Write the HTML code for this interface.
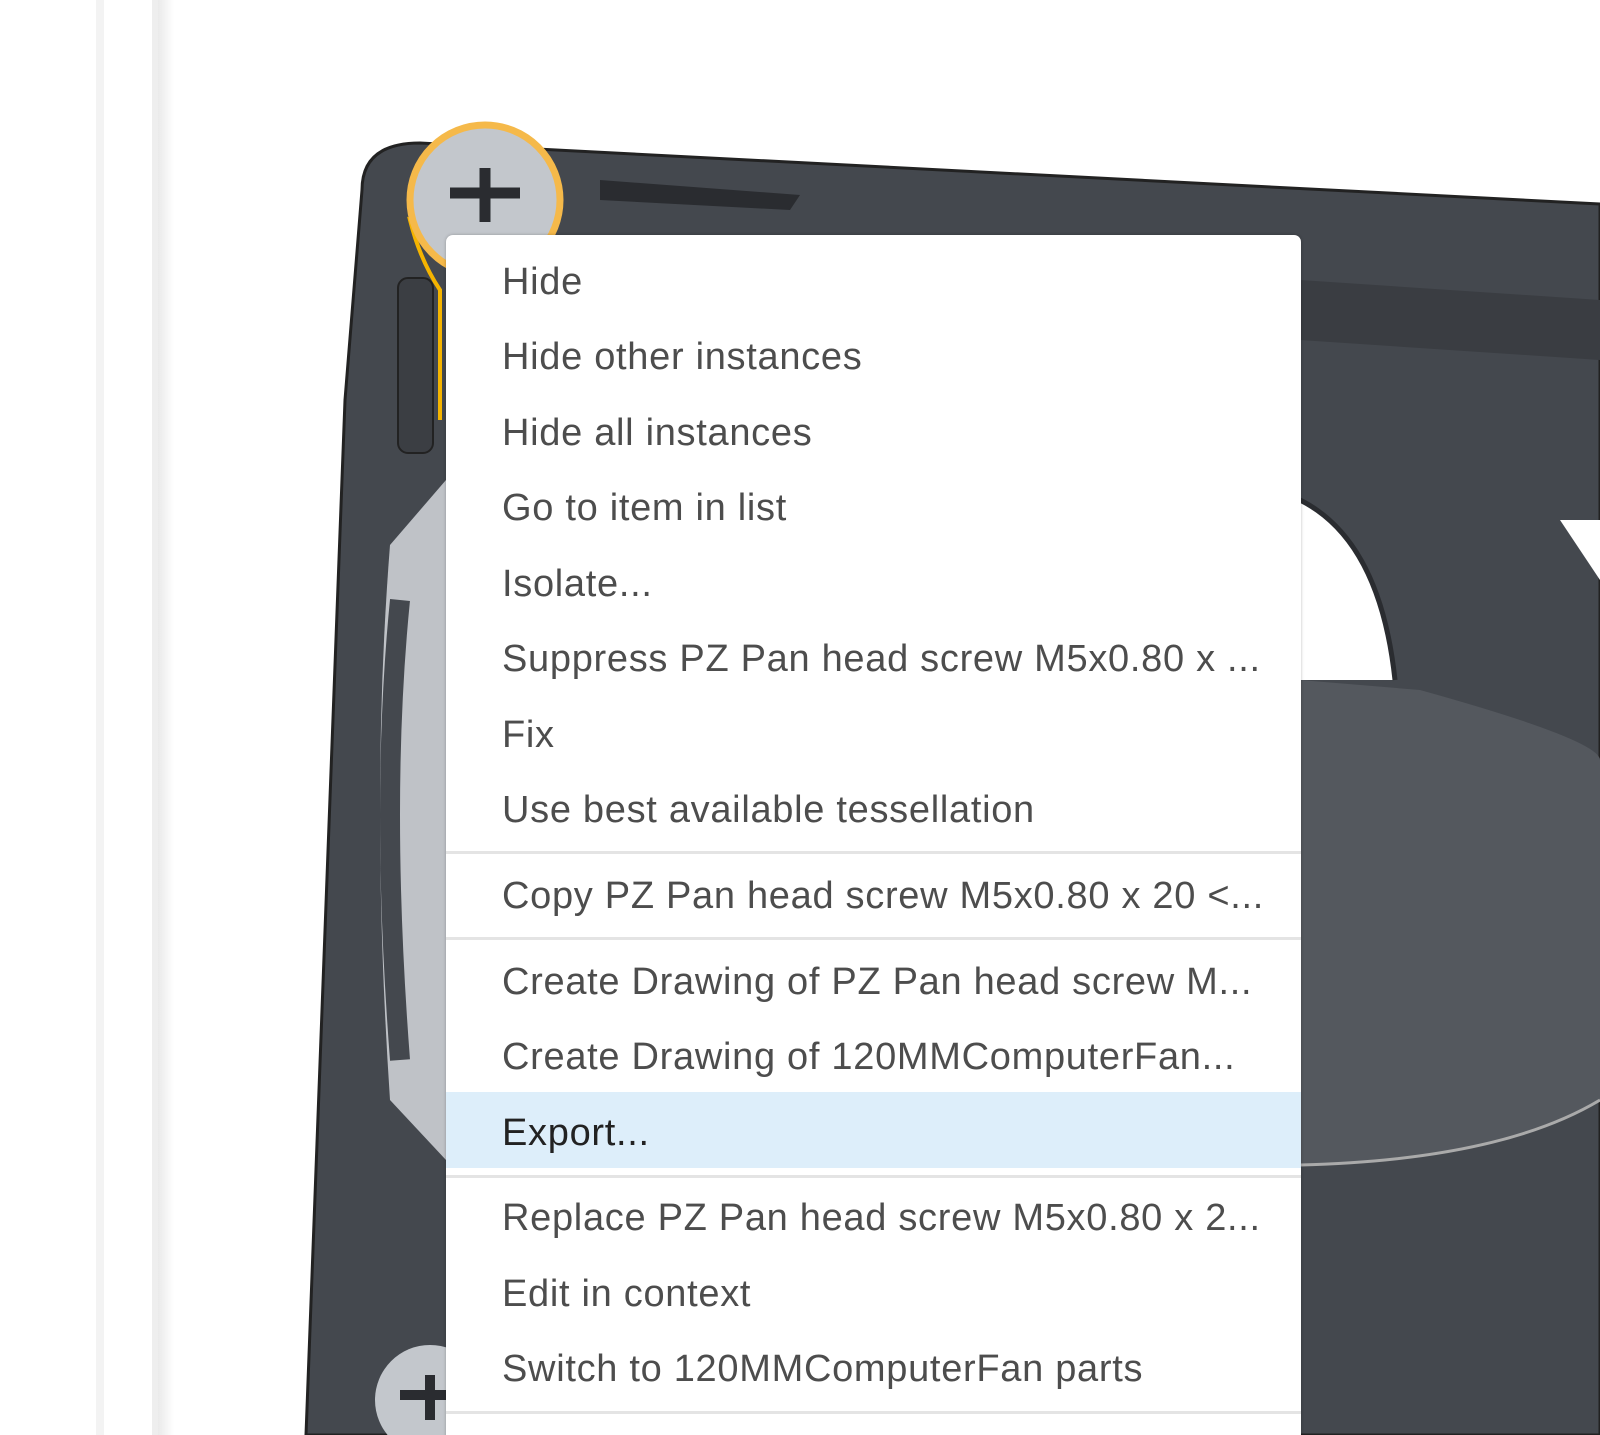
<!DOCTYPE html>
<html><head><meta charset="utf-8"><style>
html,body{margin:0;padding:0;background:#fff;width:1600px;height:1435px;overflow:hidden;position:relative;font-family:"Liberation Sans",sans-serif}
.menu{position:absolute;left:446px;top:235px;width:855px;height:1220px;background:#fff;border-radius:7px;box-shadow:0 0 3px rgba(0,0,0,.25)}
.it{position:absolute;left:56px;font-size:38px;letter-spacing:0.7px;color:#4d4d4d;line-height:40px;white-space:nowrap}
.sep{position:absolute;left:0;right:0;height:3px;background:#e4e4e4}
.hl{position:absolute;left:0;right:0;top:857px;height:76px;background:#ddeefa}
</style></head><body>
<div style="position:absolute;left:96px;top:0;width:8px;height:1435px;background:#f3f3f3"></div>
<div style="position:absolute;left:152px;top:0;width:6px;height:1435px;background:#eeeeee"></div>
<div style="position:absolute;left:158px;top:0;width:16px;height:1435px;background:linear-gradient(90deg,#eaeaea,#fff)"></div>
<svg width="1600" height="1435" style="position:absolute;left:0;top:0">
<path d="M362 190 Q362 143 420 143 L1600 204 L1600 1435 L306 1435 L345 400 Z" fill="#44484e" stroke="#222" stroke-width="3"/>
<path d="M1300 280 L1600 300 L1600 360 L1300 340 Z" fill="#3a3d42"/>
<path d="M1300 500 Q1380 540 1395 680 L1300 680 Z" fill="#fff"/>
<path d="M1300 500 Q1380 540 1395 680" fill="none" stroke="#2a2c30" stroke-width="5"/>
<path d="M1300 680 L1420 690 Q1600 740 1600 760 L1600 1100 Q1500 1160 1300 1165 Z" fill="#54585e"/>
<path d="M1300 1165 Q1500 1160 1600 1100" fill="none" stroke="#aaa" stroke-width="3"/>
<path d="M1600 520 L1600 580 L1560 520 Z" fill="#fff"/>
<path d="M390 545 L446 480 L446 1160 L390 1100 Q370 800 390 545Z" fill="#bfc2c7"/>
<path d="M400 600 Q380 800 400 1060" fill="none" stroke="#44484e" stroke-width="20"/>
<rect x="398" y="278" width="35" height="175" rx="10" fill="#3b3e43" stroke="#222" stroke-width="2"/>
<path d="M440 420 L440 290 Q420 260 410 220 L446 235" fill="none" stroke="#f5b400" stroke-width="4"/>
<circle cx="485" cy="200" r="75" fill="#c3c7cc" stroke="#f5b94a" stroke-width="7"/>
<path d="M450 193 L520 193 M485 168 L485 222" stroke="#2a2c30" stroke-width="11"/>
<circle cx="430" cy="1400" r="55" fill="#c3c7cc"/>
<path d="M400 1395 L446 1395 M430 1375 L430 1420" stroke="#2a2c30" stroke-width="10"/>
<path d="M600 180 L800 195 L790 210 L600 200 Z" fill="#2a2c30"/>
</svg>
<div class="menu">
<div class="hl"></div>
<div class="sep" style="top:616px"></div>
<div class="sep" style="top:702px"></div>
<div class="sep" style="top:940px"></div>
<div class="sep" style="top:1176px"></div>
<div class="it" style="top:27px">Hide</div>
<div class="it" style="top:102px">Hide other instances</div>
<div class="it" style="top:178px">Hide all instances</div>
<div class="it" style="top:253px">Go to item in list</div>
<div class="it" style="top:329px">Isolate...</div>
<div class="it" style="top:404px">Suppress PZ Pan head screw M5x0.80 x ...</div>
<div class="it" style="top:480px">Fix</div>
<div class="it" style="top:555px">Use best available tessellation</div>
<div class="it" style="top:641px">Copy PZ Pan head screw M5x0.80 x 20 &lt;...</div>
<div class="it" style="top:727px">Create Drawing of PZ Pan head screw M...</div>
<div class="it" style="top:802px">Create Drawing of 120MMComputerFan...</div>
<div class="it" style="top:878px;color:#222">Export...</div>
<div class="it" style="top:963px">Replace PZ Pan head screw M5x0.80 x 2...</div>
<div class="it" style="top:1039px">Edit in context</div>
<div class="it" style="top:1114px">Switch to 120MMComputerFan parts</div>
</div>
</body></html>
